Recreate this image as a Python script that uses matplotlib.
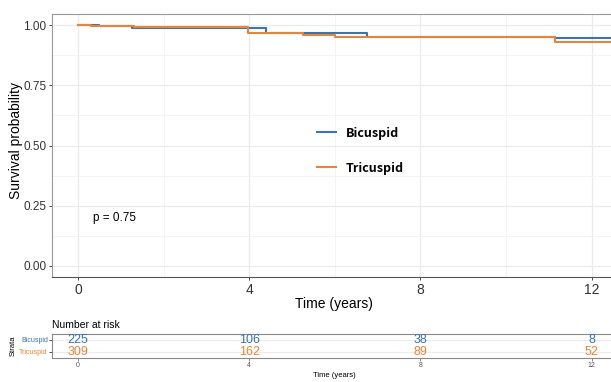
import numpy as np
import matplotlib.pyplot as plt

plt.rcParams['font.family'] = ['Liberation Sans', 'DejaVu Sans']

# survival steps (time, prob)
bic_t = [0, 0.5, 1.25, 4.4, 6.75, 11.15, 12.6]
bic_s = [1.0, 0.997, 0.988, 0.967, 0.95, 0.945, 0.945]
tri_t = [0, 0.3, 1.3, 3.97, 5.26, 6.0, 11.15, 12.6]
tri_s = [1.0, 0.995, 0.99, 0.967, 0.958, 0.95, 0.93, 0.93]

strata = ['Bicuspid', 'Tricuspid']
risk_times = [0, 4, 8, 12]
risk_bic = [225, 106, 38, 8]
risk_tri = [309, 162, 89, 52]

c_bic = '#3b74b0'
c_tri = '#e3853a'

W, H = 611, 382
fig = plt.figure(figsize=(W / 100, H / 100), dpi=100)

def box(l, t, r, b):
    return [l / W, 1 - b / H, (r - l) / W, (b - t) / H]

x_left = (52 - 78) / 42.8
x_right = (616 - 78) / 42.8

ax = fig.add_axes(box(52, 14, 616, 277))
ax.step(bic_t, bic_s, where='post', color=c_bic, lw=1.5, label='Bicuspid')
ax.step(tri_t, tri_s, where='post', color=c_tri, lw=1.5, label='Tricuspid')
ax.set_xlim(x_left, x_right)
ax.set_ylim(-0.046, 1.046)
ax.set_xticks(risk_times)
ax.set_yticks([0, 0.25, 0.5, 0.75, 1.0])
ax.set_yticklabels(['0.00', '0.25', '0.50', '0.75', '1.00'])
ax.set_xticks([2, 6, 10], minor=True)
ax.set_yticks([0.125, 0.375, 0.625, 0.875], minor=True)
ax.grid(True, which='major', color='#ebebeb', lw=0.9)
ax.grid(True, which='minor', color='#f3f3f3', lw=0.6)
ax.set_axisbelow(True)
ax.tick_params(axis='both', which='major', labelsize=8.5, colors='#333333',
               length=2.5, width=0.6, pad=1.5)
ax.tick_params(which='minor', length=0)
ax.tick_params(axis='x', labelsize=10, pad=2)
for s in ax.spines.values():
    s.set_color('#999999')
    s.set_linewidth(0.8)
ax.spines['bottom'].set_color('#555555')
ax.set_xlabel('Time (years)', fontsize=10, labelpad=0)
ax.set_ylabel('Survival probability', fontsize=10)
ax.yaxis.set_label_coords(-0.052, 0.52)
ax.text(0.35, 0.2, 'p = 0.75', fontsize=8.5, va='center', ha='left')
leg = ax.legend(loc='center left', bbox_to_anchor=(0.45, 0.48), frameon=False,
                handlelength=1.5, labelspacing=1.75,
                prop={'family': ['Noto Sans CJK KR', 'DejaVu Sans'],
                      'weight': 'bold', 'size': 9})

# risk table
rt = fig.add_axes(box(52, 334, 616, 358))
rt.set_xlim(x_left, x_right)
rt.set_ylim(-0.5, 1.5)
for t, nb, nt in zip(risk_times, risk_bic, risk_tri):
    rt.text(t, 1, str(nb), color=c_bic, ha='center', va='center', fontsize=9)
    rt.text(t, 0, str(nt), color=c_tri, ha='center', va='center', fontsize=9)
rt.set_yticks([1, 0])
rt.set_yticklabels(strata, fontsize=5)
for lab, c in zip(rt.get_yticklabels(), [c_bic, c_tri]):
    lab.set_color(c)
rt.set_xticks(risk_times)
rt.tick_params(axis='x', labelsize=5, length=2, width=0.5, colors='#555555', pad=1)
rt.tick_params(axis='y', length=2, width=0.5, pad=1)
rt.grid(True, axis='y', color='#ebebeb', lw=0.9)
for s in rt.spines.values():
    s.set_color('#888888')
    s.set_linewidth(0.8)
rt.set_xlabel('Time (years)', fontsize=5.5, labelpad=2)
rt.set_ylabel('Strata', fontsize=5.5)
rt.yaxis.set_label_coords(-0.062, 0.5)
rt.set_title('Number at risk', fontsize=7.5, loc='left', pad=4)

fig.savefig('out.png', dpi=100)
